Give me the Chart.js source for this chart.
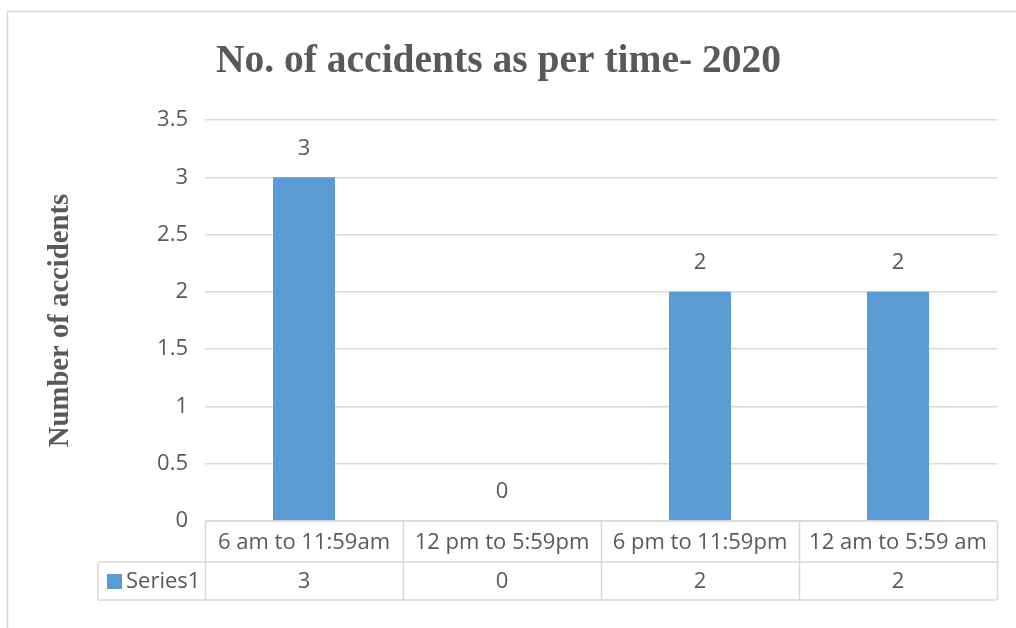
<!DOCTYPE html>
<html lang="en">
<head>
    <meta charset="UTF-8">
    <title>No. of accidents as per time- 2020</title>
    <script src="https://cdn.jsdelivr.net/npm/chart.js"></script>
    <style>
        body {
            margin: 0;
            background: #ffffff;
        }
        canvas {
            display: block;
        }
    </style>
</head>
<body>
    <canvas id="accidentChart" width="1016" height="628"></canvas>

    <script>
        const categories = ['6 am to 11:59am', '12 pm to 5:59pm', '6 pm to 11:59pm', '12 am to 5:59 am'];
        const seriesName = 'Series1';
        const seriesValues = [3, 0, 2, 2];
        const yMin = 0;
        const yMax = 3.5;
        const yStep = 0.5;

        const textColor = '#595959';
        const lineColor = '#d9d9d9';
        const barColor = '#5b9bd5';
        const sansFont = "'Open Sans', sans-serif";
        const serifFont = "'Liberation Serif', 'Times New Roman', serif";

        // outer frame, axis title, bar labels and the data table under the plot
        const excelBits = {
            id: 'excelBits',
            beforeDraw(chart) {
                const ctx = chart.ctx;
                ctx.save();
                ctx.strokeStyle = lineColor;
                ctx.lineWidth = 1.5;
                ctx.beginPath();
                ctx.moveTo(7.5, 640);
                ctx.lineTo(7.5, 11.5);
                ctx.lineTo(1016, 11.5);
                ctx.stroke();
                ctx.restore();
            },
            afterDraw(chart) {
                const ctx = chart.ctx;
                const x = chart.scales.x;
                const y = chart.scales.y;
                const area = chart.chartArea;
                const step = x.getPixelForValue(1) - x.getPixelForValue(0);
                const row1 = area.bottom;
                const row2 = row1 + 41;
                const row3 = row2 + 38;
                const legendLeft = 98;

                ctx.save();
                // y axis title
                ctx.fillStyle = textColor;
                ctx.font = 'bold 28.7px ' + serifFont;
                ctx.textAlign = 'center';
                ctx.textBaseline = 'middle';
                ctx.translate(61, (area.top + area.bottom) / 2);
                ctx.rotate(-Math.PI / 2);
                ctx.fillText('Number of accidents', 0, 0);
                ctx.restore();

                ctx.save();
                ctx.font = '22px ' + sansFont;
                ctx.fillStyle = textColor;
                ctx.textAlign = 'center';
                ctx.textBaseline = 'middle';
                // value labels above bars
                seriesValues.forEach((v, i) => {
                    ctx.fillText(String(v), x.getPixelForValue(i), y.getPixelForValue(v) - 29);
                });

                // table grid
                ctx.strokeStyle = lineColor;
                ctx.lineWidth = 1.5;
                ctx.beginPath();
                ctx.moveTo(area.left, row1);
                ctx.lineTo(area.right, row1);
                ctx.moveTo(legendLeft, row2);
                ctx.lineTo(area.right, row2);
                ctx.moveTo(legendLeft, row3);
                ctx.lineTo(area.right, row3);
                ctx.moveTo(legendLeft, row2);
                ctx.lineTo(legendLeft, row3);
                for (let i = 0; i <= categories.length; i++) {
                    const ex = Math.round(area.left + i * step) + 0.5;
                    ctx.moveTo(ex, row1);
                    ctx.lineTo(ex, row3);
                }
                ctx.stroke();

                // table text
                categories.forEach((c, i) => {
                    const cx = x.getPixelForValue(i);
                    ctx.fillText(c, cx, (row1 + row2) / 2 + 1);
                    ctx.fillText(String(seriesValues[i]), cx, (row2 + row3) / 2 + 1);
                });

                // legend key
                ctx.fillStyle = barColor;
                ctx.fillRect(legendLeft + 9, row2 + 12, 15, 15);
                ctx.fillStyle = textColor;
                ctx.textAlign = 'left';
                ctx.fillText(seriesName, legendLeft + 28, (row2 + row3) / 2 + 1);
                ctx.restore();
            }
        };

        new Chart(document.getElementById('accidentChart'), {
            type: 'bar',
            data: {
                labels: categories,
                datasets: [{
                    label: seriesName,
                    data: seriesValues,
                    backgroundColor: barColor,
                    categoryPercentage: 1,
                    barPercentage: 0.313
                }]
            },
            options: {
                responsive: false,
                animation: false,
                layout: {
                    padding: { left: 0, right: 19, top: 0, bottom: 0 }
                },
                plugins: {
                    legend: { display: false },
                    tooltip: { enabled: false },
                    title: {
                        display: true,
                        text: 'No. of accidents as per time- 2020',
                        color: textColor,
                        font: { family: serifFont, size: 39.5, weight: 'bold', lineHeight: 1.2 },
                        padding: { top: 38, bottom: 34.6 }
                    }
                },
                scales: {
                    x: {
                        ticks: { display: false },
                        grid: { display: false },
                        border: { display: false },
                        afterFit(scale) { scale.height = 107; }
                    },
                    y: {
                        min: yMin,
                        max: yMax,
                        ticks: {
                            stepSize: yStep,
                            padding: 17,
                            color: textColor,
                            font: { family: sansFont, size: 22 },
                            callback: v => String(v)
                        },
                        grid: { color: lineColor, lineWidth: 1.5, drawTicks: false },
                        border: { display: false },
                        afterFit(scale) { scale.width = 205; }
                    }
                }
            },
            plugins: [excelBits]
        });
    </script>
</body>
</html>
